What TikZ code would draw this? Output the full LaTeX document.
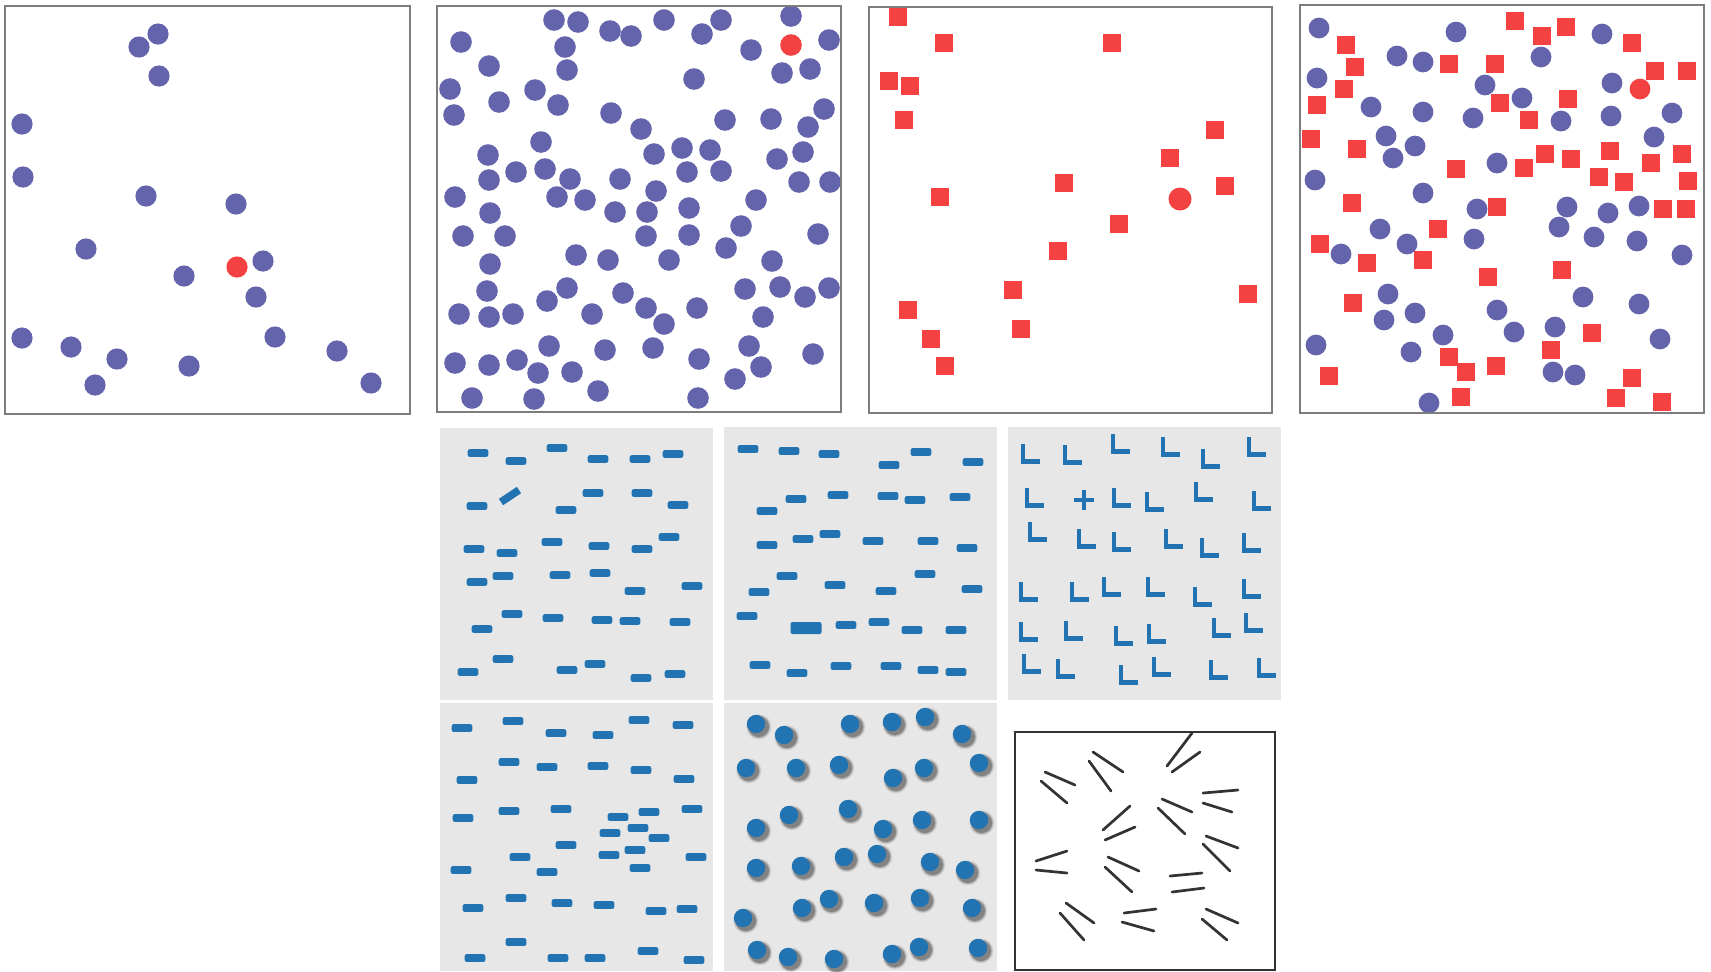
\documentclass[tikz,border=0pt]{standalone}
\usepackage{xcolor}
\usepackage{tikz}
\definecolor{dotblue}{RGB}{100,100,172}
\definecolor{hitred}{RGB}{244,66,66}
\definecolor{barblue}{RGB}{33,115,178}
\definecolor{panelgray}{RGB}{231,231,231}
\definecolor{framegray}{RGB}{125,125,125}

\begin{document}
\begin{tikzpicture}[x=0.1mm,y=-0.1mm,
  frame/.style={draw=framegray,line width=0.2mm},
  disc/.style={fill=dotblue},
  target/.style={fill=hitred},
  bar/.style={fill=barblue,rounded corners=0.2mm},
  ell/.style={draw=barblue,line width=0.45mm},
  stroke/.style={draw=black!80,line width=0.27mm,line cap=round}]
\useasboundingbox (0,0) rectangle (1711,971);
\fill[white] (0,0) rectangle (1711,971);

% top row: colour and shape pop-out
\begin{scope}
\clip (5,6) rectangle (410,414);
\foreach \x/\y in {158/34,139/47,159/76,22/124,23/177,146/196,236/204,86/249,184/276,263/261,256/297,275/337,22/338,71/347,117/359,189/366,337/351,95/385,371/383}
  \fill[disc] (\x,\y) circle (10.6);
\fill[target] (237,267) circle (10.6);
\end{scope}
\draw[frame] (5,6) rectangle (410,414);

\begin{scope}
\clip (437,6) rectangle (841,412);
\foreach \x/\y in {461/42,554/20,578/22,610/31,631/36,664/20,702/34,721/20,791/16,829/40,751/50,565/47,567/70,489/66,450/89,499/102,535/90,558/105,782/73,810/69,694/79,454/115,611/113,641/129,725/120,771/119,824/109,808/127,541/142,488/155,489/180,516/172,545/169,570/179,654/154,682/148,710/150,721/171,687/172,620/179,777/159,803/152,799/182,830/182,455/197,557/197,585/200,656/191,615/212,647/212,689/208,756/200,490/213,463/236,505/236,646/236,689/235,741/226,818/234,726/248,576/255,608/260,669/260,490/264,772/261,487/291,567/288,547/301,623/293,745/289,780/287,805/297,829/288,459/314,489/317,513/314,592/314,646/308,664/324,697/308,763/317,549/346,605/350,653/348,749/346,813/354,455/363,489/365,517/360,538/373,572/372,699/359,761/367,735/379,598/391,472/398,534/399,698/398}
  \fill[disc] (\x,\y) circle (10.8);
\fill[target] (791,45) circle (10.8);
\end{scope}
\draw[frame] (437,6) rectangle (841,412);

\begin{scope}
\clip (869,7) rectangle (1272,413);
\foreach \x/\y in {898/17,944/43,1112/43,889/81,910/86,904/120,1215/130,1170/158,1064/183,1225/186,940/197,1119/224,1058/251,1013/290,1248/294,908/310,1021/329,931/339,945/366}
  \fill[target] (\x,\y) ++(-9.3,-9.3) rectangle ++(18.6,18.6);
\fill[target] (1180,199) circle (11.5);
\end{scope}
\draw[frame] (869,7) rectangle (1272,413);

\begin{scope}
\clip (1300,5) rectangle (1704,413);
\foreach \x/\y in {1319/28,1456/32,1602/34,1397/56,1423/62,1541/57,1317/78,1485/85,1612/83,1522/98,1371/107,1423/112,1473/118,1561/121,1611/116,1672/113,1386/136,1415/146,1393/158,1654/137,1497/163,1315/180,1423/193,1477/209,1567/207,1608/213,1639/206,1559/227,1380/229,1407/244,1474/239,1594/237,1637/241,1341/254,1682/255,1388/294,1583/297,1639/304,1497/310,1415/313,1384/320,1514/332,1555/327,1443/335,1660/339,1316/345,1411/352,1553/372,1575/375,1429/403}
  \fill[disc] (\x,\y) circle (10.4);
\fill[target] (1640,89) circle (10.4);
\foreach \x/\y in {1515/21,1542/36,1566/27,1346/45,1632/43,1355/67,1449/64,1495/64,1655/71,1687/71,1344/89,1317/105,1500/103,1568/99,1529/120,1311/139,1357/149,1545/154,1571/159,1610/151,1682/154,1651/163,1456/169,1524/168,1599/177,1624/182,1688/181,1352/203,1497/207,1663/209,1686/209,1438/229,1320/244,1367/263,1423/260,1488/277,1562/270,1353/303,1592/333,1551/350,1449/357,1466/372,1496/366,1632/378,1329/376,1461/397,1616/398,1662/402}
  \fill[target] (\x,\y) ++(-8.8,-8.8) rectangle ++(17.6,17.6);
\end{scope}
\draw[frame] (1300,5) rectangle (1704,413);

% middle row
\fill[panelgray] (440,428) rectangle (713,700);
\foreach \x/\y in {478/453,516/461,557/448,598/459,640/459,673/454,477/506,566/510,593/493,642/493,678/505,474/549,507/553,552/542,599/546,642/549,669/537,477/582,503/576,560/575,600/573,635/591,692/586,512/614,482/629,553/618,602/620,630/621,680/622,503/659,468/672,567/670,595/664,641/678,675/674}
  \fill[bar] (\x,\y) ++(-10.3,-3.8) rectangle ++(20.6,7.6);
\draw[barblue,line width=0.76mm] (501,502) -- (519,490);

\fill[panelgray] (724,427) rectangle (997,700);
\foreach \x/\y in {748/449,789/451,829/454,889/465,921/452,973/462,796/499,767/511,838/495,888/496,915/500,960/497,767/545,803/539,830/534,873/541,928/541,967/548,787/576,759/592,835/585,925/574,886/591,972/589,747/616,846/625,879/622,912/630,956/630,760/665,797/673,841/666,891/666,928/670,956/672}
  \fill[bar] (\x,\y) ++(-10.3,-3.9) rectangle ++(20.6,7.8);
\fill[bar] (806,628) ++(-15.5,-6) rectangle ++(31,12);

\fill[panelgray] (1008,427) rectangle (1281,700);
\foreach \x/\y in {1030/454,1072/455,1120/444,1170/447,1210/459,1256/447,1034/498,1121/498,1154/502,1203/492,1261/501,1037/532,1086/539,1121/542,1173/539,1209/548,1251/543,1028/592,1079/592,1111/587,1155/587,1202/597,1251/589,1028/632,1073/631,1123/636,1156/634,1221/628,1253/623,1031/664,1065/669,1128/675,1161/667,1218/670,1266/668}
  \draw[ell] (\x,\y) ++(-7,-10) -- ++(0,17.5) -- ++(17,0);
\draw[ell] (1074,500) -- (1094,500) (1084,490) -- (1084,510);

% bottom row
\fill[panelgray] (440,703) rectangle (713,971);
\foreach \x/\y in {462/728,513/721,556/733,603/735,639/720,683/725,509/762,547/767,598/766,641/770,467/780,684/779,463/818,509/811,561/809,618/817,649/812,692/809,638/828,610/833,659/838,566/845,635/850,609/855,520/857,696/857,461/870,547/872,640/868,516/898,473/908,562/903,604/905,656/911,687/909,516/942,475/958,558/958,595/958,648/951,694/960}
  \fill[bar] (\x,\y) ++(-10.3,-3.9) rectangle ++(20.6,7.8);

\fill[panelgray] (724,703) rectangle (997,971);
\begin{scope}
\clip (724,703) rectangle (997,971);
\foreach \x/\y in {756/724,784/735,850/724,892/722,925/717,962/734,746/768,796/768,839/765,893/778,924/768,979/763,756/828,789/815,848/809,883/829,922/820,979/820,756/868,801/866,844/857,877/854,930/862,965/870,743/918,802/908,829/899,874/903,920/898,972/908,757/950,788/957,834/959,892/954,919/947,978/948}
  \foreach \r/\o in {12.5/0.1,11.3/0.15,10.3/0.25}
    \fill[black,opacity=\o] (\x,\y) ++(2.8,2.8) circle (\r);
\foreach \x/\y in {756/724,784/735,850/724,892/722,925/717,962/734,746/768,796/768,839/765,893/778,924/768,979/763,756/828,789/815,848/809,883/829,922/820,979/820,756/868,801/866,844/857,877/854,930/862,965/870,743/918,802/908,829/899,874/903,920/898,972/908,757/950,788/957,834/959,892/954,919/947,978/948}
  \fill[barblue] (\x,\y) circle (9.2);
\end{scope}

\draw[black!80,line width=0.2mm] (1015,732) rectangle (1275,970);
\foreach \a/\b/\c/\d in {1192/733/1167/766,1200/752/1172/772,1093/752/1123/772,1089/761/1111/791,1045/772/1075/785,1041/781/1067/803,1203/793/1238/790,1203/803/1232/812,1162/799/1192/812,1158/808/1185/834,1130/806/1103/830,1135/827/1105/840,1206/836/1238/848,1203/844/1230/871,1036/861/1067/851,1036/870/1067/873,1108/857/1139/871,1105/867/1132/892,1170/876/1202/873,1172/892/1204/888,1066/903/1094/923,1060/913/1084/940,1124/913/1156/909,1122/922/1154/931,1206/909/1238/923,1202/919/1227/940}
  \draw[stroke] (\a,\b) -- (\c,\d);
\end{tikzpicture}
\end{document}
